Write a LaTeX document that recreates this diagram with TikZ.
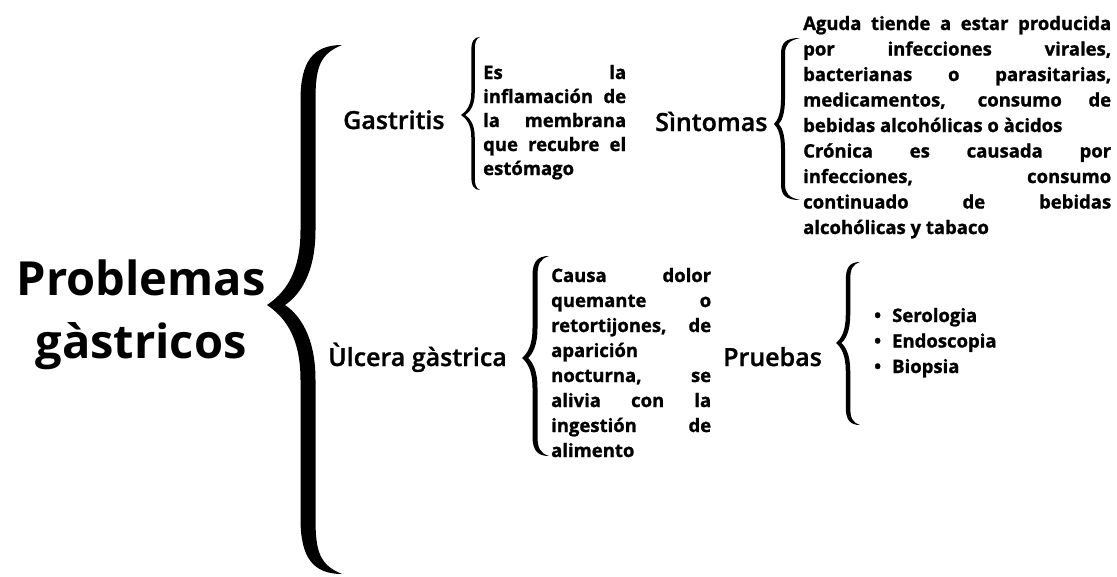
\documentclass[tikz,border=0pt]{standalone}
\usepackage{fontspec}
\setmainfont{Open Sans}
\IfFontExistsTF{Open Sans SemiBold}{\newfontfamily\headfont{Open Sans SemiBold}[FakeBold=1]}{%
  \IfFontExistsTF{Open Sans Semibold}{\newfontfamily\headfont{Open Sans Semibold}[FakeBold=1]}{\newcommand{\headfont}{\bfseries}}}
\newfontfamily\bodyfam{Open Sans}[BoldFeatures={FakeBold=1.2}]
\newcommand{\bodyfont}{\bodyfam\bfseries\fontsize{18.5}{24.5}\selectfont}
\newcommand{\jline}[1]{\makebox[\linewidth][s]{#1}\par}
% #1 x of vertical, #2 top y, #3 tip y, #4 bottom y, #5 tip x, #6 end x, #7 stroke width, #8 end curve length, #9 tip curve length
\newcommand{\curlybrace}[9]{%
\fill[black] (#6,#2)
 .. controls ({#1+0.15*(#6-#1)},#2) and ({#1-#7/2},{#2+0.3*#8}) .. ({#1-#7/2},{#2+#8})
 -- ({#1-#7/2},{#3-#9})
 .. controls ({#1-#7/2},{#3-0.4*#9}) and ({#5+0.4*(#1-#5)},{#3-0.15*#9}) .. (#5,#3)
 .. controls ({#5+0.4*(#1-#5)},{#3+0.15*#9}) and ({#1-#7/2},{#3+0.4*#9}) .. ({#1-#7/2},{#3+#9})
 -- ({#1-#7/2},{#4-#8})
 .. controls ({#1-#7/2},{#4-0.3*#8}) and ({#1+0.15*(#6-#1)},#4) .. (#6,#4)
 .. controls ({#1+0.35*(#6-#1)},{#4-0.6*#7}) and ({#1+#7/2},{#4-0.4*#8}) .. ({#1+#7/2},{#4-#8})
 -- ({#1+#7/2},{#3+#9})
 .. controls ({#1+#7/2},{#3+0.4*#9}) and ({#5+0.4*(#1-#5)+#7},{#3+0.12*#9}) .. ({#5+1.2*#7},#3)
 .. controls ({#5+0.4*(#1-#5)+#7},{#3-0.12*#9}) and ({#1+#7/2},{#3-0.4*#9}) .. ({#1+#7/2},{#3-#9})
 -- ({#1+#7/2},{#2+#8})
 .. controls ({#1+#7/2},{#2+0.4*#8}) and ({#1+0.35*(#6-#1)},{#2+0.6*#7}) .. (#6,#2) -- cycle;}
\begin{document}
\begin{tikzpicture}[x=1pt,y=-1pt,
  title/.style={font=\bfseries\fontsize{47}{56}\selectfont, inner sep=0, anchor=base},
  head/.style={font=\headfont\fontsize{25}{30}\selectfont, inner sep=0, anchor=base west},
  para/.style={inner sep=0, anchor=base west}]
\useasboundingbox (0,0) rectangle (1117,576);
\fill[white] (0,0) rectangle (1117,576);

% title
\node[title] (t1) at (141,295) {Problemas};
\node[title] (t2) at (141,358) {gàstricos};

% braces
\curlybrace{308}{45}{305}{574}{267}{342}{15}{55}{75}
\curlybrace{473}{37}{115}{190}{461}{480}{3.5}{14}{22}
\curlybrace{783}{38}{124}{200}{774}{800}{4}{16}{25}
\curlybrace{535}{256}{358}{456}{522}{549}{5}{20}{30}
\curlybrace{848}{262}{343}{425}{836}{860}{4.5}{18}{28}

% headings
\node[head] (gas) at (343,129) {Gastritis};
\node[head] (sin) at (655,131) {Sìntomas};
\node[head] (ulc) at (328,366) {Ùlcera gàstrica};
\node[head] (pru) at (723,366) {Pruebas};

% paragraphs
\node[para] (gdesc) at (483,79) {\begin{minipage}[t]{143pt}\bodyfont\setlength{\baselineskip}{24pt}%
\jline{Es la}\jline{inflamación de}\jline{la membrana}\jline{que recubre el}estómago\end{minipage}};

\node[para] (sdesc) at (803,30) {\begin{minipage}[t]{308pt}\bodyfont\setlength{\baselineskip}{25.5pt}%
\jline{Aguda tiende a estar producida}\jline{por infecciones virales,}\jline{bacterianas o parasitarias,}\jline{medicamentos, consumo de}bebidas alcohólicas o àcidos\par
\jline{Crónica es causada por}\jline{infecciones, consumo}\jline{continuado de bebidas}alcohólicas y tabaco\end{minipage}};

\node[para] (udesc) at (551,282) {\begin{minipage}[t]{160pt}\bodyfont\setlength{\baselineskip}{25pt}%
\jline{Causa dolor}\jline{quemante o}\jline{retortijones, de}aparición\par
\jline{nocturna, se}\jline{alivia con la}\jline{ingestión de}alimento\end{minipage}};

\node[para] (plist) at (874,322) {\begin{minipage}[t]{160pt}\bodyfont\setlength{\baselineskip}{25.5pt}%
\makebox[18pt][l]{•}Serologia\par\makebox[18pt][l]{•}Endoscopia\par\makebox[18pt][l]{•}Biopsia\end{minipage}};
\end{tikzpicture}
\end{document}
